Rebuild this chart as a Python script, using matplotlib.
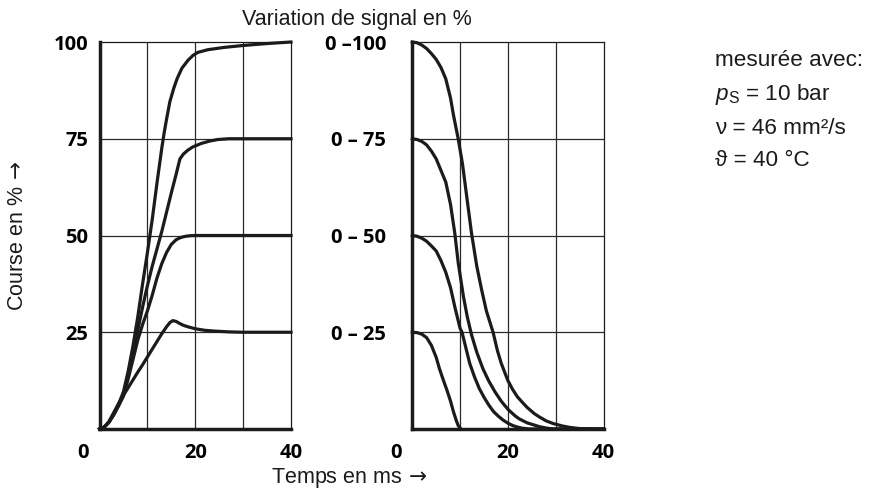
import matplotlib
matplotlib.use("Agg")
import matplotlib.pyplot as plt
from matplotlib.transforms import ScaledTranslation

plt.rcParams['mathtext.fontset'] = 'custom'
plt.rcParams['mathtext.rm'] = 'Liberation Sans'
plt.rcParams['mathtext.it'] = 'Liberation Sans:italic'

# ---- data (time in ms, stroke in %) ----
rise_t_100 = [0, 1, 2, 3, 4, 5, 6, 7, 8, 9, 10, 11, 12, 13, 13.5, 14, 14.7, 15.5, 16.2, 17.2, 18.5, 19.5, 20.5, 22.6, 26, 30, 35, 40]
rise_y_100 = [0, 0.5, 1.8, 4, 6.5, 9.6, 15, 21.5, 29, 37.5, 45.5, 54, 63.5, 72.5, 76.5, 80, 84.6, 88, 90.5, 93.2, 95.3, 96.5, 97.3, 98, 98.6, 99.1, 99.6, 100]
rise_t_75 = [0, 1, 2, 3, 4, 5, 6, 7, 8, 9, 10, 11, 12, 13, 14, 15, 16, 16.8, 17.5, 18.4, 19.5, 21.3, 23, 24.7, 27, 30, 40]
rise_y_75 = [0, 0.5, 1.8, 3.8, 6.2, 9, 14, 19.5, 25.5, 31.5, 37, 42, 46.5, 51, 56, 61, 65.8, 69.8, 71, 72, 72.9, 73.8, 74.4, 74.8, 75, 75, 75]
rise_t_50 = [0, 1, 2, 3, 4, 5, 6, 7, 8, 9, 10, 11, 12, 13, 14, 15, 16, 17, 18, 19, 20, 25, 30, 40]
rise_y_50 = [0, 0.5, 1.8, 3.7, 6, 8.5, 13, 18, 23, 27, 30.5, 34.5, 39, 42.7, 45.6, 47.7, 48.9, 49.5, 49.8, 49.95, 50, 50, 50, 50]
rise_t_25 = [0, 1, 2, 3, 4, 5, 6, 7, 8, 9, 10, 11, 12, 13, 14, 14.7, 15.3, 16, 16.7, 17.5, 18.5, 20, 22, 24, 27, 30, 35, 40]
rise_y_25 = [0, 0.5, 2, 4.3, 6.6, 8.7, 10.7, 12.7, 14.7, 16.6, 18.6, 20.6, 22.6, 24.6, 26.4, 27.5, 28, 27.8, 27.3, 26.8, 26.4, 25.9, 25.5, 25.3, 25.1, 25, 25, 25]

fall_t_100 = [0, 1, 2, 3, 4, 5, 6, 7, 8, 8.6, 9.6, 10.5, 11.5, 12.4, 13.5, 14.5, 15.5, 16.9, 17.8, 18.6, 20, 21, 22, 22.8, 24, 25.5, 26.6, 28, 29.5, 31.5, 33, 35, 37, 40]
fall_y_100 = [100, 99.8, 99.2, 98.3, 97, 95.5, 93.4, 90.5, 85.5, 81.2, 75, 68.5, 59, 50.5, 42, 36, 30.5, 25, 20.3, 17, 12.5, 10.2, 8.3, 7.2, 5.6, 4, 3.1, 2.1, 1.4, 0.75, 0.4, 0.1, 0, 0]
fall_t_75 = [0, 1, 2, 3, 4, 5, 6, 7, 8, 8.9, 9.6, 10.7, 11.5, 12.4, 13.5, 14.8, 16, 17.3, 18.6, 20, 21.5, 22.4, 24, 26.6, 28, 29.4, 40]
fall_y_75 = [75, 74.8, 74.3, 73.4, 71.8, 69.8, 66.8, 63.8, 58, 50.5, 43, 34.2, 29, 24.3, 19.8, 15.5, 12.4, 9.6, 7.2, 5.1, 3.4, 2.6, 1.6, 0.6, 0.25, 0, 0]
fall_t_50 = [0, 1, 2, 3, 4, 5, 6, 7, 8, 9, 10, 10.4, 11, 12, 13, 14, 15, 16, 17, 18, 19, 20, 21, 22, 23, 24.5, 40]
fall_y_50 = [50, 49.8, 49.3, 48.5, 47.3, 46, 43.5, 40.5, 36.5, 31, 26, 25, 22, 17, 13.5, 10.5, 8.2, 6.2, 4.5, 3.3, 2.3, 1.5, 0.9, 0.5, 0.2, 0, 0]
fall_t_25 = [0, 1, 2, 3, 4, 5, 5.7, 6.5, 7.2, 8, 8.6, 9.2, 9.6, 10.2]
fall_y_25 = [25, 24.9, 24.5, 23.6, 21.6, 18.5, 15.5, 12.6, 10.2, 7.2, 4.5, 2.2, 0.9, 0]

y_levels = [25, 50, 75, 100]
left_ylabels = ["25", "50", "75", "100"]
mid_ylabels = ["0 – 25", "0 – 50", "0 – 75", "0 –100"]
x_ticks = [0, 20, 40]
x_labels = ["0", "20", "40"]

W, H = 869, 495
fig = plt.figure(figsize=(W / 100, H / 100), dpi=100)

bold = dict(family=['Open Sans', 'DejaVu Sans'], weight='bold', size=14.5)
reg = ['Liberation Sans', 'DejaVu Sans']
ink = '#1c1a1a'
gridc = '#2a2a2a'

def make_axes(left_px, right_px):
    ax = fig.add_axes([left_px / W, (H - 429) / H, (right_px - left_px) / W, (429 - 42) / H])
    ax.set_xlim(0, 40)
    ax.set_ylim(0, 100)
    for v in [10, 20, 30]:
        ax.axvline(v, color=gridc, lw=0.9, zorder=1)
    for v in [25, 50, 75]:
        ax.axhline(v, color=gridc, lw=0.9, zorder=1)
    ax.spines['left'].set_linewidth(2.5)
    ax.spines['bottom'].set_linewidth(2.5)
    ax.spines['top'].set_linewidth(0.9)
    ax.spines['right'].set_linewidth(0.9)
    for s in ax.spines.values():
        s.set_color(ink)
    ax.set_xticks(x_ticks)
    ax.set_xticklabels(x_labels, fontdict=bold)
    ax.tick_params(length=0)
    ax.tick_params(axis='x', pad=10)
    lab0 = ax.get_xticklabels()[0]
    lab0.set_transform(lab0.get_transform() + ScaledTranslation(-0.165, 0, fig.dpi_scale_trans))
    return ax

ax1 = make_axes(99.5, 291)
ax2 = make_axes(412.3, 603.5)

ax1.set_yticks(y_levels)
ax1.set_yticklabels(left_ylabels, fontdict=bold)
ax1.tick_params(axis='y', pad=8)
ax2.set_yticks(y_levels)
ax2.set_yticklabels(mid_ylabels, fontdict=bold)
ax2.tick_params(axis='y', pad=19)

lw = 2.3
for t, y in [(rise_t_100, rise_y_100), (rise_t_75, rise_y_75), (rise_t_50, rise_y_50), (rise_t_25, rise_y_25)]:
    ax1.plot(t, y, color=ink, lw=lw, clip_on=False, zorder=3, solid_joinstyle='round')
for t, y in [(fall_t_100, fall_y_100), (fall_t_75, fall_y_75), (fall_t_50, fall_y_50), (fall_t_25, fall_y_25)]:
    ax2.plot(t, y, color=ink, lw=lw, clip_on=False, zorder=3, solid_joinstyle='round')

fig.text(357 / W, 1 - 19 / H, "Variation de signal en %", ha='center', va='center', family=reg, size=15.5, color=ink)
fig.text(349 / W, 1 - 478 / H, r"Temps en ms$\,\rightarrow$", ha='center', va='center', family=reg, size=15.5,
         color=ink, math_fontfamily='dejavusans')
fig.text(18 / W, 1 - 236 / H, r"Course en %$\,\rightarrow$", ha='center', va='center', rotation=90, family=reg,
         size=15.5, color=ink, math_fontfamily='dejavusans')

tx = 715 / W
fig.text(tx, 1 - 66 / H, "mesurée avec:", ha='left', va='baseline', family=reg, size=16.2, color=ink)
fig.text(tx, 1 - 100 / H, r"$p_\mathrm{S}$ = 10 bar", ha='left', va='baseline', family=reg, size=16.2, color=ink)
fig.text(tx, 1 - 134 / H, "ν = 46 mm²/s", ha='left', va='baseline', family=reg, size=16.2, color=ink)
fig.text(tx, 1 - 166 / H, "ϑ = 40 °C", ha='left', va='baseline', family=reg, size=16.2, color=ink)

fig.savefig("out.png", dpi=100)
